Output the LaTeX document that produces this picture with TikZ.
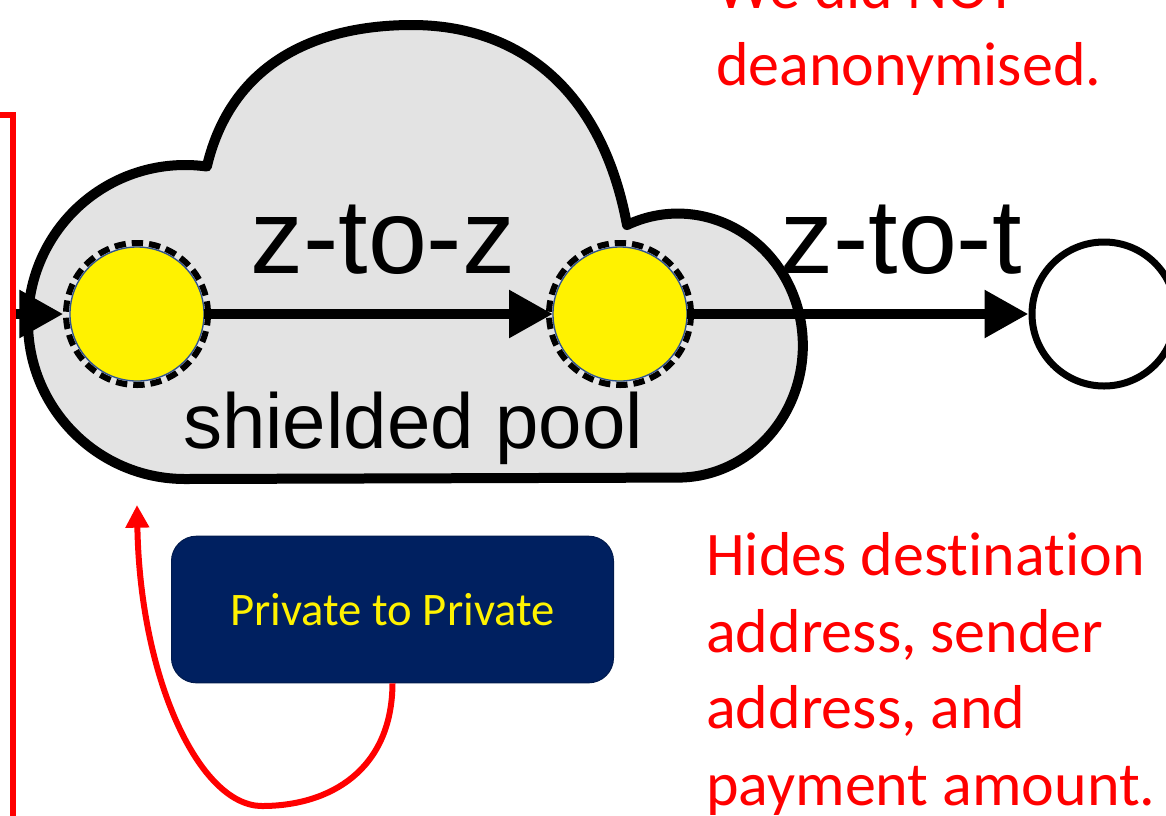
\documentclass[tikz,border=0pt]{standalone}
\usepackage{fontspec}
\newfontfamily\helvfont{Liberation Sans}
\newfontfamily\calfont{Carlito}[Ligatures=NoCommon]
\usetikzlibrary{arrows.meta}
\definecolor{cloudgray}{HTML}{E3E3E3}
\definecolor{navyfill}{HTML}{002060}
\definecolor{ringblue}{HTML}{2F528F}
\tikzset{
  cloudshape/.style={fill=cloudgray, draw=black, line width=7.5pt, line join=round},
  coin/.style={circle, fill=yellow, draw=ringblue, line width=1pt, minimum size=100.5pt, inner sep=0pt, outer sep=0pt},
  ring/.style={draw=black, line width=4.5pt, dash pattern=on 8.5pt off 4.5pt},
  bigarrow/.style={draw=black, line width=8pt, -{Triangle[length=33pt,width=34pt]}},
  endcircle/.style={circle, draw=black, fill=white, line width=5.25pt, minimum size=108pt, inner sep=0pt},
  bigtext/.style={inner sep=0pt, anchor=base west, font=\helvfont\fontsize{79.5}{95}\selectfont},
  pooltext/.style={inner sep=0pt, anchor=base west, font=\helvfont\fontsize{58.5}{70}\selectfont},
  redtext/.style={inner sep=0pt, anchor=base west, text=red, font=\calfont\fontsize{46.5}{57.75}\selectfont},
  navybox/.style={rectangle, rounded corners=18.75pt, fill=navyfill, draw=navyfill!80!black, line width=0.75pt,
    minimum width=331.5pt, minimum height=110pt, text=yellow, font=\calfont\fontsize{35}{42}\selectfont},
  redline/.style={draw=red, line width=4.5pt},
  redarrow/.style={draw=red, line width=4.5pt, -{Triangle[length=17pt,width=17pt]}}
}
\begin{document}
\begin{tikzpicture}[x=0.75pt,y=-0.75pt]
\useasboundingbox (0,0) rectangle (1166,815);
\clip (0,0) rectangle (1166,815);

% cloud
\path[cloudshape] (185,479) arc[start angle=90, end angle=278, radius=157]
  .. controls (232,60) and (320,25) .. (412,25)
  .. controls (510,25) and (600,80) .. (627,225)
  arc[start angle=246, end angle=450, x radius=125, y radius=132]
  -- cycle;

% labels in cloud
\node[bigtext] (zz) at (250,273) {z-to-z};
\node[bigtext] (zt) at (780,273) {z-to-t};
\node[pooltext] (pool) at (183,448) {shielded pool};

% coins
\node[coin] (c1) at (137,314) {};
\node[coin] (c2) at (620,314) {};
\draw[ring] (c1.center) circle[radius=71];
\draw[ring] (c2.center) circle[radius=71];

% white end node
\node[endcircle] (tend) at (1104,314) {};

% arrows
\coordinate (inL) at (15,314);
\draw[bigarrow, shorten >=5pt] (inL) -- (c1.west);
\draw[bigarrow] (c1.east) -- (c2.west);
\draw[bigarrow] (c2.east) -- (tend.west);

% red bracket line
\coordinate (rA) at (0,115);
\coordinate (rB) at (13,115);
\coordinate (rC) at (13,820);
\draw[redline, line join=miter] (rA) -- (rB) -- (rC);

% red text top
\node[redtext] (w1) at (716,8) {We did NOT};
\node[redtext] (w2) at (716,85) {deanonymised.};

% red text right
\node[redtext] (h1) at (706,575) {Hides destination};
\node[redtext] (h2) at (706,652) {address, sender};
\node[redtext] (h3) at (706,728) {address, and};
\node[redtext] (h4) at (706,805) {payment amount.};

% box
\node[navybox] (box) at (392.5,609.5) {Private to Private};

% red curved arrow
\coordinate (rtip) at (137,505);
\draw[redarrow] (box.south) .. controls (392,770) and (330,806) .. (262,806)
  .. controls (200,806) and (140,680) .. (rtip);
\end{tikzpicture}
\end{document}
